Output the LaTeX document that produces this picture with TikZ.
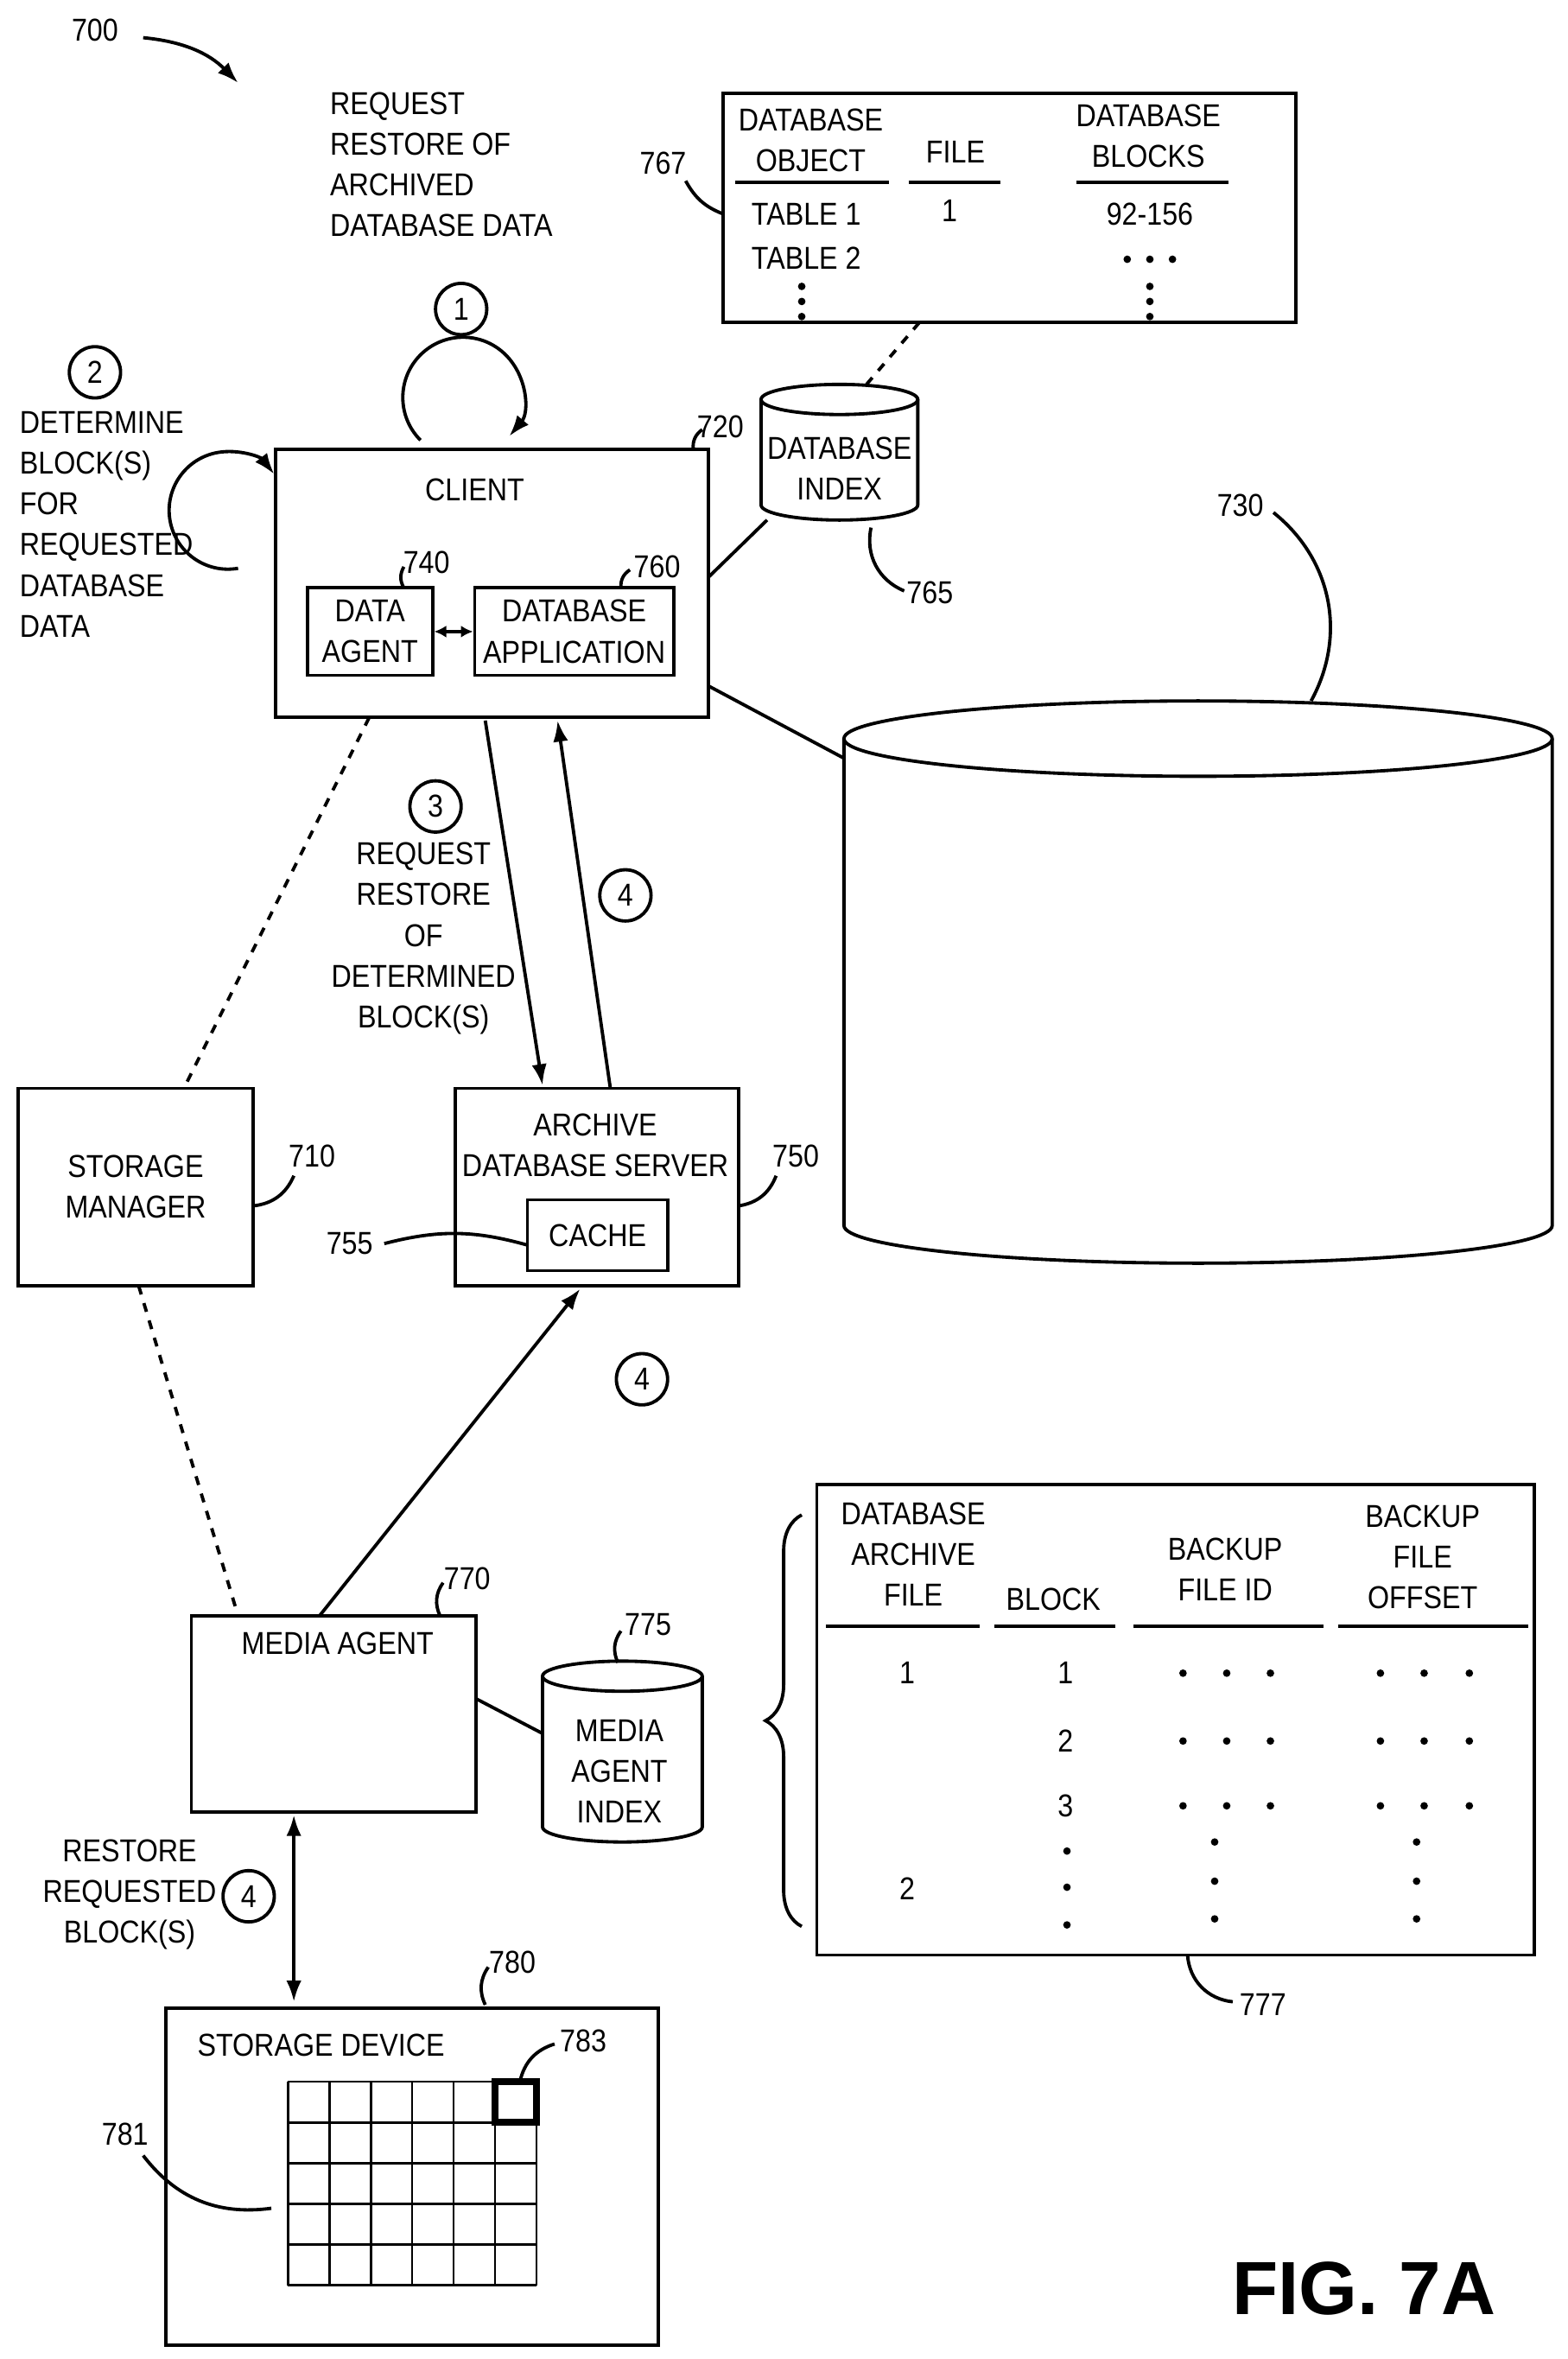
\documentclass[tikz,border=0pt]{standalone}
\usepackage{fontspec}
\setmainfont[FakeStretch=0.88]{Liberation Sans}
\newfontfamily\figfont{Liberation Sans}
\usetikzlibrary{decorations.pathreplacing,arrows.meta}
\newcommand{\drum}[5]{% center x, top y, bottom y, half width, half height of ellipse
  \draw (#1-#4,#2) -- (#1-#4,#3) arc[x radius=#4,y radius=#5,start angle=180,end angle=0] -- (#1+#4,#2);
  \draw (#1,#2) ellipse[x radius=#4,y radius=#5];}
\begin{document}
\begin{tikzpicture}[x=0.5pt,y=-0.5pt,line width=1.1pt,font=\fontsize{10.5}{13.5}\selectfont,
  lbl/.style={inner sep=1pt},
  num/.style={circle,draw,inner sep=1.5pt,minimum size=17pt},
  >={Latex[length=7pt,width=5pt]}]
  \useasboundingbox (0,0) rectangle (1040,1565);
  % reference numerals and figure title
  \node[lbl] (n700) at (63,20) {700};
  \draw[->] (95,25) to[bend left=20] (158,55);
  \node[font=\figfont\bfseries\fontsize{25}{28}\selectfont] (fig) at (905,1518) {FIG. 7A};

  % step 1
  \node[lbl,align=left,anchor=north west] (t1) at (216,58) {REQUEST\\RESTORE OF\\ARCHIVED\\DATABASE DATA};
  \node[num] (c1) at (306,205) {1};
  \draw[->] (279,292) arc[start angle=135,end angle=400,radius=40];

  % step 2
  \node[num] (c2) at (63,247) {2};
  \node[lbl,align=left,anchor=north west] (t2) at (10,270) {DETERMINE\\BLOCK(S)\\FOR\\REQUESTED\\DATABASE\\DATA};
  \draw[->] (158,377) arc[start angle=80,end angle=322,radius=39];

  % client
  \node[draw,minimum width=143.5pt,minimum height=89pt] (client) at (326.5,387) {};
  \node[lbl] at (315,325) {CLIENT};
  \node[draw,align=center,inner sep=1pt,minimum width=41.5pt,minimum height=29pt] (agent) at (245.5,419) {DATA\\AGENT};
  \node[draw,align=center,inner sep=1pt,minimum width=66pt,minimum height=29pt] (app) at (381,419) {DATABASE\\APPLICATION};
  \draw[<->,>={Latex[length=4pt,width=4pt]}] (agent) -- (app);
  \node[lbl] (n720) at (478,283) {720};
  \draw (460,298) to[bend left=30] (466,285);
  \node[lbl] (n740) at (283,373) {740};
  \draw (268,390) to[bend left=30] (268,376);
  \node[lbl] (n760) at (436,376) {760};
  \draw (412,390) to[bend left=30] (418,378);

  % database index
  \drum{557}{265}{335}{52}{10}
  \node[lbl,align=center] (dbidx) at (557,311) {DATABASE\\INDEX};
  \node[lbl] (n765) at (617,393) {765};
  \draw (578,350) to[bend right=40] (600,392);

  % table 767
  \node[draw,minimum width=190pt,minimum height=76pt] (tab1) at (670,138) {};
  \node[lbl,align=center] at (538,93) {DATABASE\\OBJECT};
  \node[lbl] at (634,101) {FILE};
  \node[lbl,align=center] at (762,90) {DATABASE\\BLOCKS};
  \draw (488,121) -- (590,121) (603,121) -- (664,121) (714,121) -- (815,121);
  \node[lbl] at (535,142) {TABLE 1};
  \node[lbl] at (535,171) {TABLE 2};
  \node[lbl] at (630,140) {1};
  \node[lbl] at (763,142) {92-156};
  \foreach \y in {190,200,210} \fill (532,\y) circle (2.5);
  \foreach \p in {(748,172),(763,172),(778,172),(763,190),(763,200),(763,210)} \fill \p circle (2.5);
  \node[lbl] (n767) at (440,108) {767};
  \draw (455,120) to[bend right=20] (480,142);
  \draw[dashed] (610,214) -- (575,255);

  % big database 730
  \drum{795}{490}{813}{235}{25}
  \node[lbl] (n730) at (823,335) {730};
  \draw (845,340) to[bend left=40] (870,465);
  \draw (470,455) -- (560,503);
  \draw (470,383) -- (509,345);

  % storage manager
  \node[draw,align=center,minimum width=78pt,minimum height=65.5pt] (sm) at (90,787.5) {STORAGE\\MANAGER};
  \node[lbl] (n710) at (207,767) {710};
  \draw (168,800) to[bend right=30] (195,780);
  \draw[dashed] (245,476) -- (122,722);

  % archive database server
  \node[draw,minimum width=94pt,minimum height=65.5pt] (ads) at (396,787.5) {};
  \node[lbl,align=center] at (395,760) {ARCHIVE\\DATABASE SERVER};
  \node[draw,minimum width=46.5pt,minimum height=23.5pt] (cache) at (396.5,819.5) {CACHE};
  \node[lbl] (n750) at (528,767) {750};
  \draw (490,800) to[bend right=30] (515,780);
  \node[lbl] (n755) at (232,825) {755};
  \draw (255,825) to[bend left=15] (350,826);

  % step 3 and 4 arrows
  \draw[->] (322,478) -- (360,720);
  \draw[->] (405,722) -- (370,478);
  \node[num] (c3) at (289,535) {3};
  \node[lbl,align=center,anchor=north] (t3) at (281,556) {REQUEST\\RESTORE\\OF\\DETERMINED\\BLOCK(S)};
  \node[num] (c4a) at (415,594) {4};

  % media agent
  \node[draw,minimum width=94.5pt,minimum height=65pt] (ma) at (221.5,1137) {};
  \node[lbl] at (224,1090) {MEDIA AGENT};
  \node[lbl] (n770) at (310,1047) {770};
  \draw (292,1072) to[bend left=30] (294,1050);
  \draw[->] (212,1072) -- (385,855);
  \node[num] (c4b) at (426,915) {4};
  \draw[dashed] (92,853) -- (158,1072);

  % media agent index
  \drum{413}{1112}{1212}{53}{10}
  \node[lbl,align=center] (maidx) at (411,1175) {MEDIA\\AGENT\\INDEX};
  \node[lbl] (n775) at (430,1078) {775};
  \draw (410,1103) to[bend left=30] (412,1082);
  \draw (316,1127) -- (360,1150);

  % step 4 restore
  \draw[<->] (195,1204) -- (195,1328);
  \node[lbl,align=center] (t4) at (86,1257) {RESTORE\\REQUESTED\\BLOCK(S)};
  \node[num] (c4c) at (165,1258) {4};

  % storage device
  \node[draw,minimum width=163.5pt,minimum height=112pt] (sd) at (273.5,1444) {};
  \node[lbl] at (213,1357) {STORAGE DEVICE};
  \node[lbl] (n780) at (340,1302) {780};
  \draw (322,1330) to[bend left=30] (324,1305);
  \foreach \i in {0,...,6} \draw[line width=0.8pt] (191+27.5*\i,1381) -- (191+27.5*\i,1516);
  \foreach \j in {0,...,5} \draw[line width=0.8pt] (191,1381+27*\j) -- (356,1381+27*\j);
  \draw[line width=2.2pt] (328.5,1381) rectangle (356,1408);
  \node[lbl] (n783) at (387,1354) {783};
  \draw (345,1381) to[bend left=30] (368,1356);
  \node[lbl] (n781) at (83,1416) {781};
  \draw (95,1430) to[bend right=30] (180,1465);

  % table 777
  \node[draw,minimum width=238pt,minimum height=156pt] (tab2) at (780,1141) {};
  \draw[decorate,decoration={brace,amplitude=12pt}] (532,1278) -- (532,1005);
  \node[lbl,align=center] at (606,1031) {DATABASE\\ARCHIVE\\FILE};
  \node[lbl] at (699,1061) {BLOCK};
  \node[lbl,align=center] at (813,1041) {BACKUP\\FILE ID};
  \node[lbl,align=center] at (944,1033) {BACKUP\\FILE\\OFFSET};
  \draw (548,1079) -- (650,1079) (660,1079) -- (740,1079) (752,1079) -- (878,1079) (888,1079) -- (1014,1079);
  \node[lbl] at (602,1110) {1};
  \node[lbl] at (707,1110) {1};
  \node[lbl] at (707,1155) {2};
  \node[lbl] at (707,1198) {3};
  \node[lbl] at (602,1253) {2};
  \foreach \y in {1110,1155,1198} {
    \foreach \x in {785,814,843,916,945,975} \fill (\x,\y) circle (2.5);
  }
  \foreach \y in {1228,1252,1277} \fill (708,\y) circle (2.5);
  \foreach \y in {1222,1248,1273} {\fill (806,\y) circle (2.5); \fill (940,\y) circle (2.5);}
  \node[lbl] (n777) at (838,1330) {777};
  \draw (788,1297) to[bend right=40] (818,1328);
\end{tikzpicture}
\end{document}
